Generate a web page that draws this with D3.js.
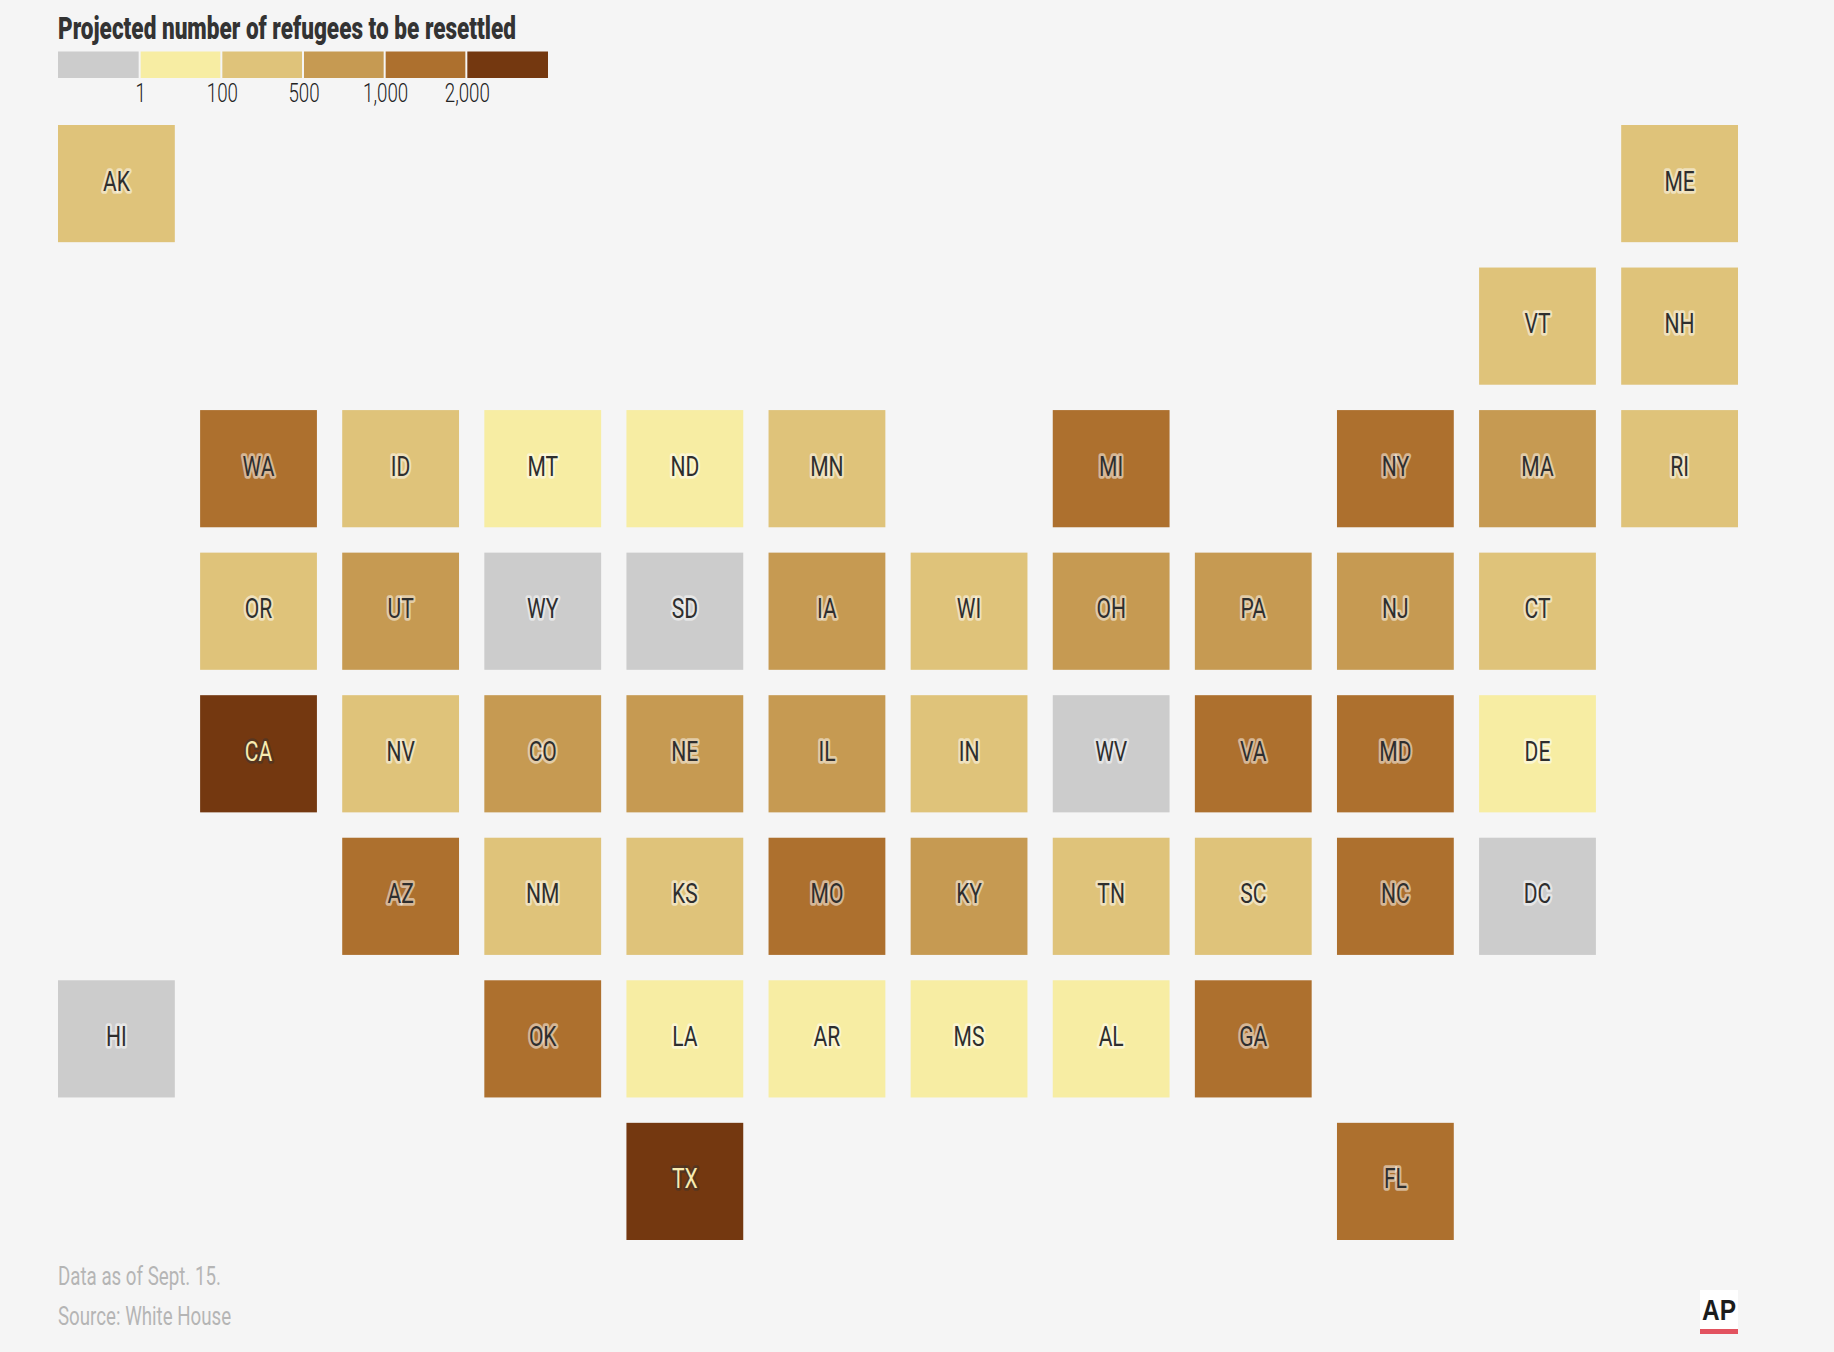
<!DOCTYPE html>
<html><head><meta charset="utf-8">
<script src="https://cdn.jsdelivr.net/npm/d3@7/dist/d3.min.js"></script>
<style>html,body{margin:0;padding:0;background:#f5f5f5}svg{display:block}</style>
</head><body><svg id="c" width="1834" height="1352"></svg>
<script>
const binLabels = ["none","1","100","500","1,000","2,000"];
const binColors = ["#cccccc","#f7eda3","#dfc37a","#c69a52","#ad702e","#743810"];
const states = ["AK","ME","VT","NH","WA","ID","MT","ND","MN","MI","NY","MA","RI","OR","UT","WY","SD","IA","WI","OH","PA","NJ","CT","CA","NV","CO","NE","IL","IN","WV","VA","MD","DE","AZ","NM","KS","MO","KY","TN","SC","NC","DC","HI","OK","LA","AR","MS","AL","GA","TX","FL"];
const cols   = [0,11,10,11,1,2,3,4,5,7,9,10,11,1,2,3,4,5,6,7,8,9,10,1,2,3,4,5,6,7,8,9,10,2,3,4,5,6,7,8,9,10,0,3,4,5,6,7,8,4,9];
const rows   = [0,0,1,1,2,2,2,2,2,2,2,2,2,3,3,3,3,3,3,3,3,3,3,4,4,4,4,4,4,4,4,4,4,5,5,5,5,5,5,5,5,5,6,6,6,6,6,6,6,7,7];
const bins   = [2,2,2,2,4,2,1,1,2,4,4,3,2,2,3,0,0,3,2,3,3,3,2,5,2,3,3,3,2,0,4,4,1,4,2,2,4,3,2,2,4,0,0,4,1,1,1,1,4,5,4];
const titleText = "Projected number of refugees to be resettled";
const noteLines = ["Data as of Sept. 15.","Source: White House"];

const svg = d3.select("#c");
const FONT = "Roboto,sans-serif";
svg.append("rect").attr("width",1834).attr("height",1352).attr("fill","#f5f5f5");

const x = d3.scaleBand().domain(d3.range(12)).range([58,1738]).paddingInner(0.178).paddingOuter(0);
const y = d3.scaleBand().domain(d3.range(8)).range([125,1240]).paddingInner(0.178).paddingOuter(0);
const color = d3.scaleOrdinal().domain(d3.range(6)).range(binColors);
const legendX = d3.scaleBand().domain(d3.range(6)).range([58,548]);

svg.append("text").attr("x",58).attr("y",39).text(titleText)
  .attr("font-family",FONT).attr("font-weight",900).attr("font-size",32).attr("fill","#333")
  .attr("textLength",458).attr("lengthAdjust","spacingAndGlyphs");

svg.append("g").selectAll("rect").data(binLabels).join("rect")
  .attr("x",(d,i)=>legendX(i)+(i?1:0)).attr("y",51.5).attr("height",26.5)
  .attr("width",(d,i)=>legendX.bandwidth()-(i?1:0)-(i<5?1:0)).attr("fill",(d,i)=>color(i));
svg.append("g").selectAll("text").data(binLabels.slice(1)).join("text")
  .attr("transform",(d,i)=>`translate(${legendX(i+1)+1},102) scale(0.72,1)`)
  .attr("text-anchor","middle").text(d=>d)
  .attr("font-family",FONT).attr("font-weight",300).attr("font-size",26).attr("fill","#222");

const cell = svg.append("g").selectAll("g").data(states).join("g")
  .attr("transform",(d,i)=>`translate(${x(cols[i])},${y(rows[i])})`);
cell.append("rect").attr("width",x.bandwidth()).attr("height",y.bandwidth())
  .attr("fill",(d,i)=>color(bins[i]));
cell.append("text")
  .attr("transform",`translate(${x.bandwidth()/2},${y.bandwidth()/2-2.5}) scale(0.78,1)`)
  .attr("dy","0.35em")
  .attr("text-anchor","middle").text(d=>d)
  .attr("font-family",FONT).attr("font-size",27)
  .attr("fill",(d,i)=>bins[i]===5?"#f8ecb0":"#2e2e2e")
  .attr("stroke",(d,i)=>bins[i]===5?"rgba(51,51,51,0.45)":"rgba(255,255,255,0.5)")
  .attr("stroke-width",5.5).attr("stroke-linejoin","round").attr("paint-order","stroke");

svg.append("g").selectAll("text").data(noteLines).join("text")
  .attr("transform",(d,i)=>`translate(58,${1285+i*40}) scale(0.72,1)`).text(d=>d)
  .attr("font-family",FONT).attr("font-size",26).attr("fill","#b5b5b5");

const logo = svg.append("g").attr("transform","translate(1700,1290)");
logo.append("rect").attr("width",38).attr("height",39).attr("fill","#fff");
logo.append("rect").attr("y",39).attr("width",38).attr("height",5).attr("fill","#e2525f");
logo.append("text").attr("x",19).attr("y",30).attr("text-anchor","middle").text("AP")
  .attr("font-family","'Liberation Sans',sans-serif").attr("font-weight",700).attr("font-size",29).attr("fill","#1c1c1c")
  .attr("textLength",34).attr("lengthAdjust","spacingAndGlyphs");
</script></body></html>
